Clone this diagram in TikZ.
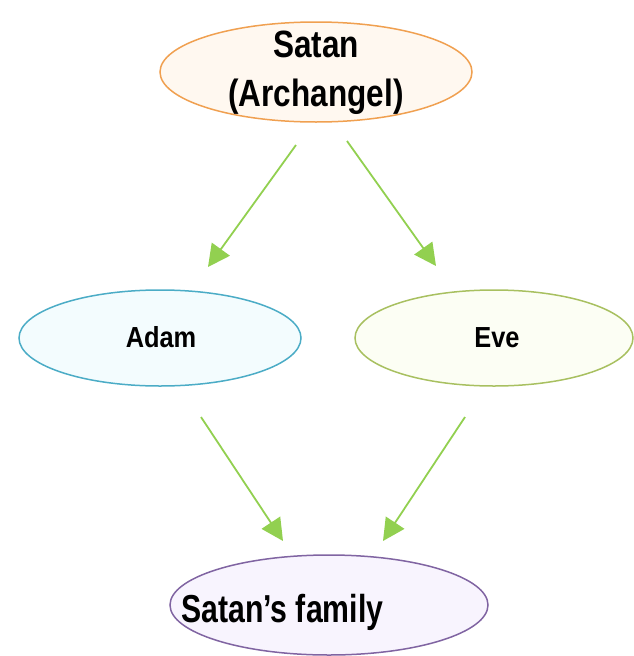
\documentclass[tikz,border=0pt]{standalone}
\usepackage{fontspec}
\setmainfont{Liberation Sans}
\newfontfamily\fsatan{Liberation Sans}[FakeStretch=0.83]
\newfontfamily\fmid{Liberation Sans}[FakeStretch=0.875]
\newfontfamily\ffam{Liberation Sans}[FakeStretch=0.775]
\usetikzlibrary{shapes.geometric,arrows.meta}
\definecolor{orgline}{HTML}{F0A050}
\definecolor{orgfill}{HTML}{FFF8F0}
\definecolor{blueline}{HTML}{4BACC6}
\definecolor{bluefill}{HTML}{F3FCFE}
\definecolor{grnline}{HTML}{A8C060}
\definecolor{grnfill}{HTML}{FCFEF4}
\definecolor{purline}{HTML}{8064A2}
\definecolor{purfill}{HTML}{F8F4FE}
\definecolor{arrowgreen}{HTML}{92D050}
\tikzset{
  oval/.style={ellipse, draw, line width=1.5pt, inner sep=0pt},
  lbl/.style={anchor=base, inner sep=0pt, text=black},
  conn/.style={draw=arrowgreen, line width=1.8pt, -{Triangle[length=22pt,width=22pt]}}
}
\begin{document}
\begin{tikzpicture}[x=1pt,y=-1pt]
\useasboundingbox (0,0) rectangle (633,656);
\node[oval, draw=orgline, fill=orgfill, minimum width=312pt, minimum height=100pt] (satan) at (316,72) {};
\node[oval, draw=blueline, fill=bluefill, minimum width=282pt, minimum height=96pt] (adam) at (160,338) {};
\node[oval, draw=grnline, fill=grnfill, minimum width=278pt, minimum height=96pt] (eve) at (494,338) {};
\node[oval, draw=purline, fill=purfill, minimum width=318pt, minimum height=100pt] (fam) at (329,605) {};

\node[lbl, font=\fsatan\bfseries\fontsize{38}{44}\selectfont] (satan1) at (316,57) {Satan};
\node[lbl, font=\fsatan\bfseries\fontsize{38}{44}\selectfont] (satan2) at (316,106) {(Archangel)};
\node[lbl, font=\fmid\bfseries\fontsize{29}{32}\selectfont] (adamt) at (161,347) {Adam};
\node[lbl, font=\fmid\bfseries\fontsize{29}{32}\selectfont] (evet) at (497,347) {Eve};
\node[lbl, anchor=base west, font=\ffam\bfseries\fontsize{39}{44}\selectfont] (famt) at (181,622) {Satan’s family};

\coordinate (a1s) at (296,145);
\coordinate (a1e) at (208,267);
\coordinate (a2s) at (347,141);
\coordinate (a2e) at (436,266);
\coordinate (a3s) at (201,417);
\coordinate (a3e) at (283,541);
\coordinate (a4s) at (465,417);
\coordinate (a4e) at (383,541);
\draw[conn] (a1s) -- (a1e);
\draw[conn] (a2s) -- (a2e);
\draw[conn] (a3s) -- (a3e);
\draw[conn] (a4s) -- (a4e);
\end{tikzpicture}
\end{document}
